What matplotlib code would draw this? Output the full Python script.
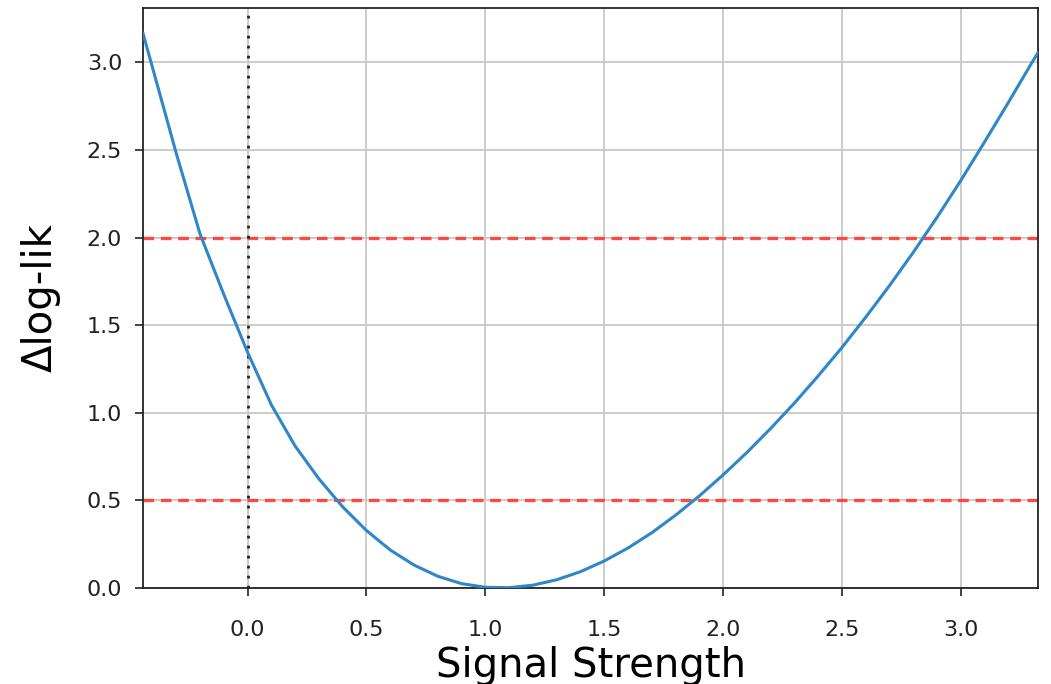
import matplotlib
matplotlib.use("Agg")
import matplotlib.pyplot as plt

# values
signal = [-0.44, -0.4, -0.3, -0.2, -0.1, 0.0, 0.1, 0.2, 0.3, 0.4, 0.5,
          0.6, 0.7, 0.8, 0.9, 1.0, 1.1, 1.2, 1.3, 1.4, 1.5, 1.6, 1.7,
          1.8, 1.9, 2.0, 2.1, 2.2, 2.3, 2.4, 2.5, 2.6, 2.7, 2.8, 2.9,
          3.0, 3.1, 3.2, 3.3, 3.325]
dloglik = [3.165, 2.97, 2.48, 2.02, 1.675, 1.345, 1.045, 0.81, 0.623, 0.463, 0.328,
           0.217, 0.131, 0.067, 0.025, 0.004, 0.002, 0.016, 0.047, 0.093, 0.154, 0.228, 0.315,
           0.415, 0.525, 0.645, 0.773, 0.91, 1.055, 1.21, 1.372, 1.545, 1.725, 1.915, 2.115,
           2.325, 2.545, 2.77, 3.00, 3.055]
thresholds = [0.5, 2.0]
x_ticks = [0.0, 0.5, 1.0, 1.5, 2.0, 2.5, 3.0]
y_ticks = [0.0, 0.5, 1.0, 1.5, 2.0, 2.5, 3.0]

fig = plt.figure(figsize=(10.51, 6.84), dpi=100)
ax = fig.add_axes([143 / 1051, 96 / 684, 895 / 1051, 580 / 684])

ax.plot(signal, dloglik, color="#2f86c8", lw=2.2, zorder=3)
for t in thresholds:
    ax.axhline(t, color="#ff3b2f", lw=2.4, ls=(0, (3.2, 2.0)), alpha=0.9, zorder=2)
ax.axvline(0, color="#222222", lw=2.0, ls=(0, (1, 2.6)), zorder=2)

ax.set_xlim(-0.44, 3.325)
ax.set_ylim(0, 3.31)
ax.set_xticks(x_ticks)
ax.set_yticks(y_ticks)
ax.grid(True, color="#c8c8c8", lw=1.3)
ax.set_axisbelow(True)

ax.tick_params(labelsize=16, length=6, width=1.2, colors="#222222")
ax.tick_params(axis="x", pad=17)
ax.tick_params(axis="y", pad=9)
for s in ax.spines.values():
    s.set_linewidth(1.3)
    s.set_color("#222222")

ax.set_xlabel("Signal Strength", fontsize=29, labelpad=4)
ax.set_ylabel("\u0394log-lik", fontsize=29, labelpad=19)

fig.savefig("out.png", dpi=100)
